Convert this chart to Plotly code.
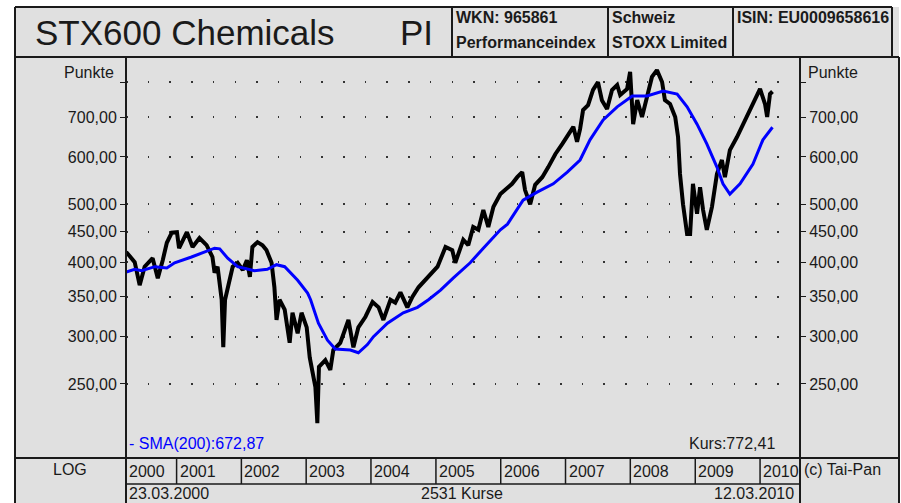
import math
import plotly.graph_objects as go

price_dates = [
    "2000-03-23", "2000-05-10", "2000-06-07", "2000-07-05", "2000-08-19", "2000-09-17",
    "2000-10-15", "2000-11-07", "2000-12-05", "2001-01-03", "2001-01-15", "2001-02-28",
    "2001-04-01", "2001-05-10", "2001-06-19", "2001-07-22", "2001-08-03", "2001-08-20",
    "2001-09-12", "2001-09-21", "2001-10-01", "2001-10-16", "2001-11-13", "2001-12-11",
    "2002-01-09", "2002-02-01", "2002-02-18", "2002-03-04", "2002-04-02", "2002-04-30",
    "2002-05-22", "2002-06-20", "2002-07-06", "2002-07-18", "2002-08-04", "2002-09-02",
    "2002-09-30", "2002-10-16", "2002-11-14", "2002-12-06", "2003-01-04", "2003-01-21",
    "2003-02-07", "2003-02-22", "2003-03-05", "2003-03-14", "2003-04-19", "2003-05-17",
    "2003-06-03", "2003-07-12", "2003-08-27", "2003-09-24", "2003-10-22", "2003-12-01",
    "2004-01-10", "2004-02-13", "2004-03-11", "2004-04-20", "2004-05-17", "2004-06-15",
    "2004-07-24", "2004-08-22", "2004-09-25", "2004-11-15", "2005-01-10", "2005-02-24",
    "2005-04-03", "2005-04-20", "2005-06-04", "2005-07-02", "2005-07-30", "2005-08-28",
    "2005-09-25", "2005-10-23", "2005-11-21", "2005-12-30", "2006-02-08", "2006-03-06",
    "2006-04-04", "2006-05-02", "2006-05-18", "2006-06-16", "2006-07-14", "2006-08-23",
    "2006-09-26", "2006-11-05", "2006-12-14", "2007-01-17", "2007-02-14", "2007-03-07",
    "2007-03-24", "2007-04-10", "2007-05-08", "2007-06-05", "2007-07-03", "2007-07-25",
    "2007-08-23", "2007-09-20", "2007-10-19", "2007-11-05", "2007-12-14", "2007-12-31",
    "2008-01-17", "2008-02-09", "2008-03-07", "2008-04-04", "2008-05-02", "2008-05-30",
    "2008-06-28", "2008-07-14", "2008-08-12", "2008-09-10", "2008-09-26", "2008-10-07",
    "2008-10-24", "2008-11-16", "2008-12-03", "2008-12-19", "2009-01-11", "2009-01-28",
    "2009-02-14", "2009-03-07", "2009-04-05", "2009-05-03", "2009-05-31", "2009-06-17",
    "2009-07-15", "2009-08-24", "2009-09-27", "2009-10-25", "2009-11-22", "2010-01-01",
    "2010-01-29", "2010-02-10", "2010-02-26", "2010-03-12",
]
price_values = [
    416, 400, 366, 393, 406, 376,
    403, 431, 448, 449, 422, 449,
    424, 439, 427, 408, 384, 393,
    346, 288, 346, 363, 393, 399,
    388, 403, 378, 424, 432, 427,
    419, 399, 363, 320, 346, 333,
    293, 329, 304, 329, 311, 277,
    261, 247, 215, 267, 274, 264,
    285, 293, 320, 288, 311, 324,
    343, 336, 320, 346, 342, 356,
    336, 350, 363, 378, 393, 424,
    419, 399, 436, 427, 458, 453,
    489, 458, 495, 520, 534, 541,
    555, 566, 528, 500, 539, 555,
    577, 607, 631, 656, 674, 636,
    668, 719, 733, 777, 801, 747,
    722, 777, 792, 762, 780, 833,
    681, 747, 700, 756, 817, 839,
    801, 747, 736, 700, 648, 562,
    500, 446, 446, 541, 482, 534,
    489, 453, 495, 562, 593, 555,
    616, 648, 681, 705, 736, 780,
    736, 700, 765, 772.41,
]

# gleitender Durchschnitt 200 Tage
sma_dates = [
    "2000-03-23", "2000-05-10", "2000-06-18", "2000-09-01", "2000-11-07", "2000-12-21",
    "2001-03-26", "2001-06-08", "2001-08-03", "2001-09-01", "2001-10-16", "2001-12-11",
    "2002-03-15", "2002-05-27", "2002-07-18", "2002-09-02", "2002-11-14", "2003-01-09",
    "2003-01-26", "2003-03-11", "2003-05-01", "2003-06-14", "2003-09-07", "2003-10-22",
    "2003-12-12", "2004-01-15", "2004-04-03", "2004-07-01", "2004-09-19", "2004-11-20",
    "2005-01-27", "2005-04-08", "2005-07-13", "2005-09-25", "2005-11-21", "2005-12-30",
    "2006-02-08", "2006-05-07", "2006-07-25", "2006-10-24", "2007-01-11", "2007-03-24",
    "2007-05-19", "2007-08-01", "2007-10-19", "2008-01-12", "2008-04-04", "2008-07-04",
    "2008-09-21", "2008-11-16", "2009-01-11", "2009-03-07", "2009-05-03", "2009-06-06",
    "2009-07-15", "2009-09-10", "2009-11-22", "2010-01-17", "2010-03-12",
]
sma_values = [
    385, 389, 387, 393, 391, 399,
    408, 416, 422, 421, 406, 393,
    387, 389, 396, 393, 373, 355,
    346, 316, 296, 286, 285, 282,
    291, 300, 316, 329, 336, 346,
    359, 376, 399, 422, 441, 453,
    463, 508, 524, 541, 566, 593,
    641, 692, 728, 759, 759, 774,
    765, 728, 681, 631, 577, 541,
    520, 541, 584, 641, 672.87,
]

tick_values = [250, 300, 350, 400, 450, 500, 600, 700, 800]
tick_labels = ["250,00", "300,00", "350,00", "400,00", "450,00", "500,00", "600,00", "700,00", ""]
year_labels = ["2000", "2001", "2002", "2003", "2004", "2005", "2006", "2007", "2008", "2009", "2010"]
year_starts = ["2001-01-01", "2002-01-01", "2003-01-01", "2004-01-01", "2005-01-01",
               "2006-01-01", "2007-01-01", "2008-01-01", "2009-01-01", "2010-01-01"]

FONT = "Liberation Sans, Arial, sans-serif"
INK = "#1a1a1a"
L, R, T, B = 126, 800, 57, 458


def fx(x):
    return (x - L) / (R - L)


def fy(y):
    return (B - y) / (B - T)


fig = go.Figure()

fig.add_trace(go.Scatter(x=price_dates, y=price_values, mode="lines",
                         line=dict(color="black", width=4), showlegend=False, hoverinfo="skip"))
fig.add_trace(go.Scatter(x=sma_dates, y=sma_values, mode="lines",
                         line=dict(color="#0000ff", width=3), showlegend=False, hoverinfo="skip"))
# unsichtbare Kopie fuer rechte Achse
fig.add_trace(go.Scatter(x=sma_dates, y=sma_values, mode="lines", yaxis="y2",
                         line=dict(color="rgba(0,0,0,0)", width=0), showlegend=False, hoverinfo="skip"))

y_range = [math.log10(187.9), math.log10(882.3)]
yaxis_common = dict(
    type="log", range=y_range, tickvals=tick_values, ticktext=tick_labels,
    ticks="outside", ticklen=5, tickwidth=1, tickcolor=INK,
    tickfont=dict(family=FONT, size=16, color=INK),
    showline=False, zeroline=False,
)

shapes = []


def line(x0, y0, x1, y1, w=2, xref="paper"):
    shapes.append(dict(type="line", xref=xref, yref="paper",
                       x0=x0 if xref == "x" else fx(x0), x1=x1 if xref == "x" else fx(x1),
                       y0=fy(y0), y1=fy(y1), line=dict(color=INK, width=w), layer="above"))


# grauer Hintergrund
shapes.append(dict(type="rect", xref="paper", yref="paper", x0=fx(15), x1=fx(899),
                   y0=fy(510), y1=fy(7), fillcolor="#e0e0e0", line=dict(width=0), layer="below"))

# Rahmen
line(15, 7, 892, 7)
line(15, 7, 15, 503)
line(15, 57, 899, 57)
for xv in [452, 608, 733, 892]:
    line(xv, 7, xv, 57)
line(899, 57, 899, 503)
line(L, 57, L, 503)
line(R, 57, R, 503)
line(15, B, 899, B)
line(L, 484, R, 484, w=1.5)
for ys in year_starts:
    line(ys, B, ys, 484, w=1.5, xref="x")

annotations = []


def text(x, y, s, size=16, anchor="left", color=INK, bold=False, xref="paper", xshift=0):
    annotations.append(dict(
        x=x if xref == "x" else fx(x), y=fy(y), xref=xref, yref="paper",
        text=f"<b>{s}</b>" if bold else s, showarrow=False,
        xanchor=anchor, yanchor="middle", xshift=xshift,
        font=dict(family=FONT, size=size, color=color)))


text(33, 33, "STX600 Chemicals", size=35)
text(398, 33, "PI", size=35)
text(454, 18, "WKN: 965861", size=16, bold=True)
text(454, 43, "Performanceindex", size=16, bold=True)
text(610, 18, "Schweiz", size=16, bold=True)
text(610, 43, "STOXX Limited", size=16, bold=True)
text(735, 18, "ISIN: EU0009658616", size=16, bold=True)

text(116, 73, "Punkte", anchor="right")
text(806, 73, "Punkte")

text(127, 443, "- SMA(200):672,87", color="#0000ff")
text(777, 443, "Kurs:772,41", anchor="right")

text(70, 469, "LOG", anchor="center")
text(802, 469, "(c) Tai-Pan")
text(127, 471, year_labels[0])
for ys, lab in zip(year_starts, year_labels[1:]):
    text(ys, 471, lab, xref="x", xshift=1)

text(127, 493, "23.03.2000")
text(462, 493, "2531 Kurse", anchor="center")
text(796, 493, "12.03.2010", anchor="right")

fig.update_layout(
    width=901, height=503,
    margin=dict(l=L, r=901 - R, t=T, b=503 - B),
    paper_bgcolor="white", plot_bgcolor="rgba(0,0,0,0)",
    xaxis=dict(type="date", range=["2000-03-22", "2010-08-14"], showticklabels=False,
               ticks="", showgrid=False, zeroline=False, showline=False),
    yaxis=dict(**yaxis_common, side="left", showgrid=True, gridcolor="#333333",
               gridwidth=1.5, griddash="1.5px,20.2px"),
    yaxis2=dict(**yaxis_common, side="right", overlaying="y", showgrid=False),
    shapes=shapes, annotations=annotations,
    showlegend=False,
)

# Seitenrand des Browsers entfernen, damit das Bild bei (0,0) beginnt
fig.write_html("out.html", config={"displayModeBar": False},
               post_script="document.body.style.margin='0';document.body.style.overflow='hidden';")
